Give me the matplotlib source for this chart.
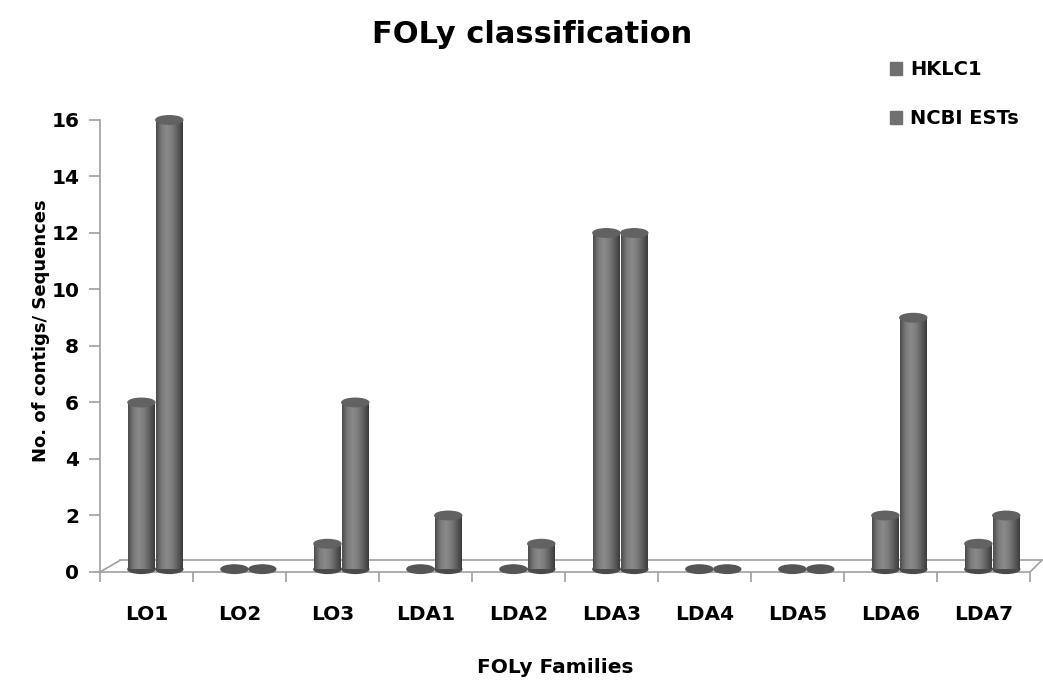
import numpy as np
import matplotlib.pyplot as plt
from matplotlib.patches import Ellipse, Patch
from matplotlib.colors import LinearSegmentedColormap

plt.rcParams['font.family'] = ['DejaVu Sans']
plt.rcParams['font.weight'] = 'bold'

families = ['LO1', 'LO2', 'LO3', 'LDA1', 'LDA2', 'LDA3', 'LDA4', 'LDA5', 'LDA6', 'LDA7']
hklc1 = [6, 0, 1, 0, 0, 12, 0, 0, 2, 1]
ncbi_ests = [16, 0, 6, 2, 1, 12, 0, 0, 9, 2]

# cylinder shading across the bar width
shade = LinearSegmentedColormap.from_list(
    'cyl', ['#4c4c4c', '#7a7a7a', '#8a8a8a', '#7c7c7c', '#5e5e5e', '#3c3c3c'])
grad = np.linspace(0, 1, 64).reshape(1, -1)

fig = plt.figure(figsize=(10.43, 6.82), dpi=100)
ax = fig.add_axes([0.0959, 0.1613, 0.8916, 0.6628])
ax.set_xlim(0, len(families))
ax.set_ylim(0, 16)

bar_w = 0.29
cap_h = 0.30
offsets = [0.30, 0.60]


def cylinder(x0, h):
    im = ax.imshow(grad, cmap=shade, aspect='auto',
                   extent=[x0, x0 + bar_w, 0.1, h], zorder=3)
    im.set_clip_on(False)
    ax.add_patch(Ellipse((x0 + bar_w / 2, 0.1), bar_w, cap_h, color='#4a4a4a',
                         zorder=2.9, clip_on=False))
    ax.add_patch(Ellipse((x0 + bar_w / 2, h), bar_w, cap_h, color='#626262',
                         zorder=3.1, clip_on=False))


for i in range(len(families)):
    for off, vals in zip(offsets, [hklc1, ncbi_ests]):
        if vals[i] > 0:
            cylinder(i + off, vals[i])
        else:
            ax.add_patch(Ellipse((i + off + bar_w / 2, 0.1), bar_w, cap_h,
                                 color='#555555', zorder=3, clip_on=False))

# floor of the 3d plot
line_c = '#a0a0a0'
dx, dy = 0.22, 0.42
ax.plot([0, dx], [0, dy], color=line_c, lw=1.2, clip_on=False, zorder=1)
ax.plot([dx, len(families) + 0.13], [dy, dy], color=line_c, lw=1.2,
        clip_on=False, zorder=1)
ax.plot([len(families), len(families) + 0.13], [0, dy], color=line_c, lw=1.2,
        clip_on=False, zorder=1)

for s in ['top', 'right']:
    ax.spines[s].set_visible(False)
for s in ['left', 'bottom']:
    ax.spines[s].set_color(line_c)
    ax.spines[s].set_linewidth(1.2)

ax.set_yticks(range(0, 17, 2))
ax.set_xticks(np.arange(len(families)) + 0.5)
ax.set_xticklabels(families)
ax.set_xticks(np.arange(len(families) + 1), minor=True)
ax.tick_params(axis='x', which='major', length=0, pad=24, labelsize=14.5)
ax.tick_params(axis='x', which='minor', length=7, color=line_c, width=1.2)
ax.tick_params(axis='y', length=8, color=line_c, width=1.2, labelsize=14.5, pad=7)

ax.set_ylabel('No. of contigs/ Sequences', fontsize=13, fontweight='bold')
ax.yaxis.set_label_coords(-0.054, 0.533)
ax.set_xlabel('FOLy Families', fontsize=14.5, fontweight='bold')
ax.xaxis.set_label_coords(0.49, -0.19)
fig.text(0.51, 0.95, 'FOLy classification', fontsize=22, fontweight='bold',
         ha='center', va='center')

handles = [Patch(color='#707070', label='HKLC1'),
           Patch(color='#707070', label='NCBI ESTs')]
fig.legend(handles=handles, loc='upper left', bbox_to_anchor=(0.853, 0.912),
           frameon=False, borderpad=0, borderaxespad=0,
           handlelength=0.65, handleheight=0.65, handletextpad=0.4,
           labelspacing=1.55, prop={'weight': 'bold', 'size': 14})

fig.savefig('out.png', dpi=100)
